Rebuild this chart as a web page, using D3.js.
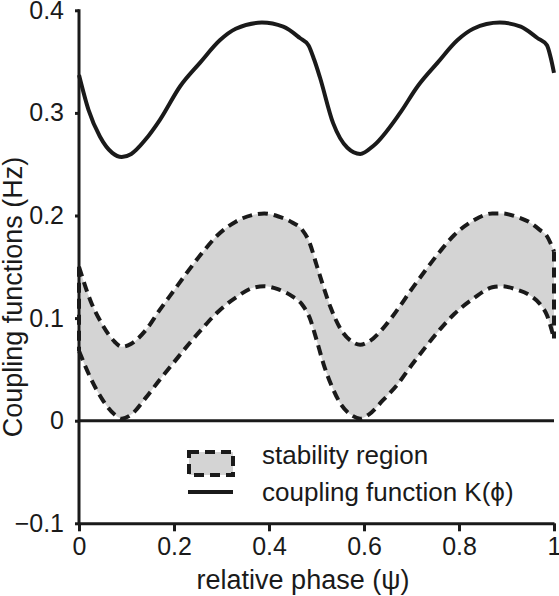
<!DOCTYPE html>
<html>
<head>
<meta charset="utf-8">
<script src="https://cdn.jsdelivr.net/npm/d3@7"></script>
<style>
  html, body { margin: 0; padding: 0; background: #fff; }
  svg { display: block; font-family: "Liberation Sans", Arial, sans-serif; }
</style>
</head>
<body>
<svg id="chart" width="559" height="596"></svg>
<script>
// ---- data ----
const phaseK = [0, 0.02, 0.044, 0.07, 0.09, 0.11, 0.14, 0.17, 0.213, 0.255, 0.297, 0.33, 0.385, 0.43, 0.465, 0.483, 0.495, 0.507, 0.535, 0.565, 0.592, 0.62, 0.676, 0.713, 0.755, 0.797, 0.83, 0.886, 0.93, 0.965, 0.985, 0.993, 1.0];
const couplingK = [0.337, 0.303, 0.277, 0.261, 0.257, 0.260, 0.274, 0.293, 0.326, 0.349, 0.371, 0.382, 0.388, 0.384, 0.373, 0.366, 0.352, 0.335, 0.290, 0.266, 0.260, 0.268, 0.300, 0.326, 0.349, 0.371, 0.382, 0.388, 0.384, 0.373, 0.366, 0.354, 0.339];

const phaseBand = [0, 0.025, 0.05, 0.075, 0.09, 0.11, 0.14, 0.17, 0.2, 0.23, 0.26, 0.29, 0.33, 0.37, 0.39, 0.42, 0.45, 0.47, 0.485, 0.5, 0.515, 0.53, 0.55, 0.575, 0.592, 0.61, 0.64, 0.67, 0.7, 0.73, 0.76, 0.79, 0.83, 0.87, 0.89, 0.92, 0.95, 0.97, 0.985, 1.0];
const upperBand = [0.150, 0.116, 0.093, 0.077, 0.072, 0.075, 0.088, 0.108, 0.127, 0.146, 0.164, 0.180, 0.194, 0.201, 0.202, 0.199, 0.193, 0.186, 0.174, 0.152, 0.130, 0.110, 0.090, 0.077, 0.074, 0.077, 0.090, 0.108, 0.128, 0.147, 0.165, 0.181, 0.195, 0.202, 0.202, 0.199, 0.193, 0.186, 0.180, 0.165];
const lowerBand = [0.068, 0.041, 0.020, 0.006, 0.002, 0.006, 0.022, 0.040, 0.057, 0.074, 0.090, 0.105, 0.120, 0.130, 0.131, 0.128, 0.121, 0.113, 0.101, 0.079, 0.055, 0.036, 0.017, 0.005, 0.002, 0.006, 0.020, 0.035, 0.054, 0.072, 0.089, 0.104, 0.119, 0.130, 0.131, 0.128, 0.122, 0.114, 0.103, 0.080];

const xTicks = [0, 0.2, 0.4, 0.6, 0.8, 1];
const yTicks = [-0.1, 0, 0.1, 0.2, 0.3, 0.4];
const legendLabels = ["stability region", "coupling function K(\u03D5)"];
const xTitle = "relative phase (\u03C8)";
const yTitle = "Coupling functions (Hz)";

// ---- drawing ----
const ink = "#1a1a1a";
const svg = d3.select("#chart");
const x = d3.scaleLinear().domain([0, 1]).range([79, 554]);
const y = d3.scaleLinear().domain([-0.1, 0.4]).range([523.3, 10.3]);

const band = phaseBand.map((p, i) => ({ p, u: upperBand[i], l: lowerBand[i] }));
const kData = phaseK.map((p, i) => ({ p, k: couplingK[i] }));

// band fill
svg.append("path")
  .datum(band)
  .attr("fill", "#d4d4d4")
  .attr("d", d3.area().x(d => x(d.p)).y0(d => y(d.l)).y1(d => y(d.u)).curve(d3.curveMonotoneX));

// zero line
svg.append("line")
  .attr("x1", x(0)).attr("x2", x(1))
  .attr("y1", y(0)).attr("y2", y(0))
  .attr("stroke", ink).attr("stroke-width", 3);

// band outlines (dashed)
const dash = "10,6";
const lineU = d3.line().x(d => x(d.p)).y(d => y(d.u)).curve(d3.curveMonotoneX);
const lineL = d3.line().x(d => x(d.p)).y(d => y(d.l)).curve(d3.curveMonotoneX);
[lineU, lineL].forEach(gen => {
  svg.append("path").datum(band)
    .attr("fill", "none").attr("stroke", ink)
    .attr("stroke-width", 4).attr("stroke-dasharray", dash)
    .attr("d", gen);
});
[band[0], band[band.length - 1]].forEach(d => {
  svg.append("line")
    .attr("x1", x(d.p)).attr("x2", x(d.p))
    .attr("y1", y(d.u)).attr("y2", y(d.l))
    .attr("stroke", ink).attr("stroke-width", 4).attr("stroke-dasharray", dash);
});

// coupling function
svg.append("path").datum(kData)
  .attr("fill", "none").attr("stroke", ink).attr("stroke-width", 4)
  .attr("stroke-linejoin", "round")
  .attr("d", d3.line().x(d => x(d.p)).y(d => y(d.k)).curve(d3.curveMonotoneX));

// axes
const fmt = d3.format(".1~f");
const gx = svg.append("g").attr("transform", `translate(0,${y(-0.1)})`)
  .call(d3.axisBottom(x).tickValues(xTicks).tickFormat(fmt).tickSize(8).tickSizeOuter(0).tickPadding(6));
const gy = svg.append("g").attr("transform", `translate(${x(0)},0)`)
  .call(d3.axisLeft(y).tickValues(yTicks).tickFormat(fmt).tickSize(4).tickSizeOuter(0).tickPadding(11));
[gx, gy].forEach(g => {
  g.select(".domain").attr("stroke", ink).attr("stroke-width", 3);
  g.selectAll(".tick line").attr("stroke", ink).attr("stroke-width", 3);
  g.selectAll(".tick text").attr("fill", ink).style("font-size", "25px")
    .style("font-family", '"Liberation Sans", Arial, sans-serif');
});
gy.select(".domain").attr("d", `M0,${y(-0.1) + 1.5}V${y(0.4) - 1}`);

// axis titles
svg.append("text")
  .attr("x", 303).attr("y", 589)
  .attr("text-anchor", "middle").attr("fill", ink)
  .style("font-size", "27px").text(xTitle);
svg.append("text")
  .attr("transform", "translate(22,297) rotate(-90)")
  .attr("text-anchor", "middle").attr("fill", ink)
  .style("font-size", "27px").text(yTitle);

// legend
const lg = svg.append("g");
lg.append("rect")
  .attr("x", 189).attr("y", 452).attr("width", 44).attr("height", 23)
  .attr("fill", "#d4d4d4").attr("stroke", ink).attr("stroke-width", 4)
  .attr("stroke-dasharray", dash);
lg.append("line")
  .attr("x1", 188).attr("x2", 233).attr("y1", 492).attr("y2", 492)
  .attr("stroke", ink).attr("stroke-width", 4);
lg.selectAll("text.lab").data(legendLabels).join("text")
  .attr("class", "lab")
  .attr("x", 262).attr("y", (d, i) => 464 + i * 37)
  .attr("fill", ink).style("font-size", "26px")
  .text(d => d);
</script>
</body>
</html>
